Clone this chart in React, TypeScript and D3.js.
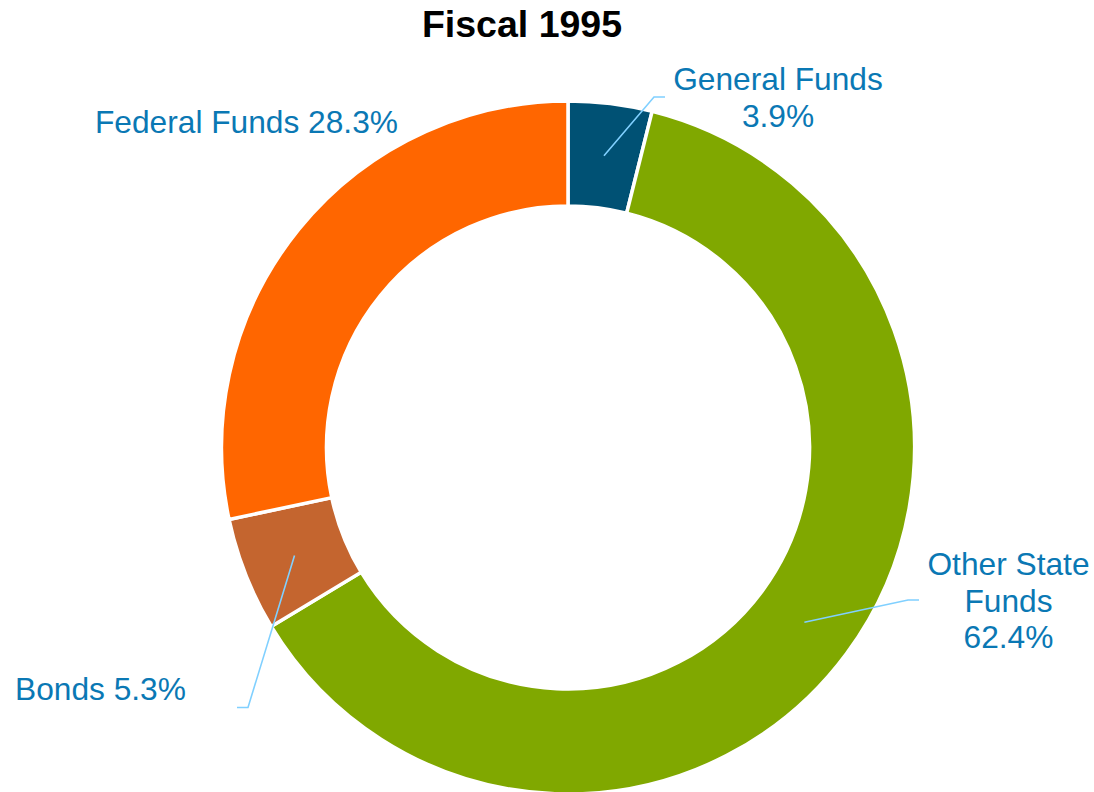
import React from "react";
import * as d3 from "d3";

const categories = ["General Funds", "Other State Funds", "Bonds", "Federal Funds"];
const values = [3.9, 62.4, 5.3, 28.3];
const colors = ["#005174", "#80a800", "#c4652f", "#ff6600"];
const labelLines = [["General Funds", "3.9%"], ["Other State", "Funds", "62.4%"], ["Bonds 5.3%"], ["Federal Funds 28.3%"]];

// layout (relative to pie center)
const W = 1094, H = 792;
const cx = 568, cy = 447.5;
const outerR = 346.5, innerR = 241.5, labelR = 294;
const labelLayout = [
  { x: 210, y: -357.5, anchor: "middle", leader: [[86, -350.5], [97, -350.5]] },
  { x: 440.5, y: 127.5, anchor: "middle", leader: [[340, 152.5], [351, 152.5]] },
  { x: -553, y: 252.5, anchor: "start", leader: [[-320, 260], [-331, 260]] },
  { x: -473, y: -314.8, anchor: "start", leader: null },
];

export default function App() {
  const pie = d3.pie<number>().sort(null).value((d) => d)(values);
  const arc = d3.arc<d3.PieArcDatum<number>>().innerRadius(innerR).outerRadius(outerR);
  const mid = d3.arc<d3.PieArcDatum<number>>().innerRadius(labelR).outerRadius(labelR);
  const fs = 31.7;
  const lh = 36.5;
  return (
    <svg width={W} height={H} style={{ position: "absolute", left: 0, top: 0, background: "#fff" }}
      fontFamily="'Liberation Sans', Arial, sans-serif">
      <text x={522} y={37} textAnchor="middle" fontWeight="bold" fontSize={37.5} fill="#000">Fiscal 1995</text>
      <g transform={`translate(${cx},${cy})`}>
        {pie.map((p, i) => (
          <path key={categories[i]} d={arc(p) || ""} fill={colors[i]} stroke="#fff" strokeWidth={3.5} strokeLinejoin="miter" />
        ))}
        {pie.map((p, i) => {
          const L = labelLayout[i];
          if (!L.leader) return null;
          const c = mid.centroid(p);
          const pts = [c, ...L.leader];
          return <polyline key={"l" + i} points={pts.map((q) => q.join(",")).join(" ")} fill="none" stroke="#80d0ff" strokeWidth={1.6} />;
        })}
        {labelLines.map((lines, i) => {
          const L = labelLayout[i];
          return (
            <text key={"t" + i} x={L.x} y={L.y} textAnchor={L.anchor} fontSize={fs} fill="#0a78b4">
              {lines.map((ln, j) => (
                <tspan key={j} x={L.x} dy={j === 0 ? 0 : lh}>{ln}</tspan>
              ))}
            </text>
          );
        })}
      </g>
    </svg>
  );
}
